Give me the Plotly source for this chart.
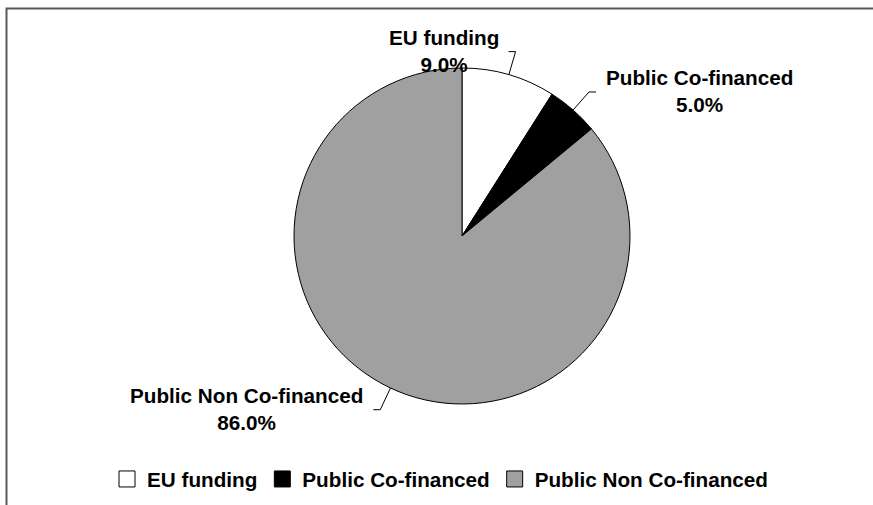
import math
import plotly.graph_objects as go

# Funding breakdown (share of total, %)
categories = ["EU funding", "Public Co-financed", "Public Non Co-financed"]
shares = [9.0, 5.0, 86.0]
slice_colors = ["#FFFFFF", "#000000", "#A0A0A0"]

# Canvas and pie geometry in pixels
W, H = 873, 505
CX, CY, R = 462, 236, 168
LEADER_OUT = 24      # radial length of each leader line beyond the rim
TICK = 7             # short horizontal elbow at the leader end
GAP = 8              # space between elbow and label text
label_side = [-1, 1, -1]   # label placed left (-1) or right (+1) of its leader

FONT = dict(family="Liberation Sans, Arial, sans-serif", size=20.7,
            color="#000000", weight="bold")

fig = go.Figure()

fig.add_trace(go.Pie(
    labels=categories,
    values=shares,
    sort=False,
    direction="clockwise",
    rotation=0,
    marker=dict(colors=slice_colors, line=dict(color="#000000", width=1)),
    textinfo="none",
    hoverinfo="label+percent",
    showlegend=False,
    domain=dict(x=[(CX - R) / W, (CX + R) / W],
                y=[(H - CY - R) / H, (H - CY + R) / H]),
))

# Legend entries with square swatches
for name, col in zip(categories, slice_colors):
    fig.add_trace(go.Scatter(
        x=[None], y=[None], mode="markers", name=name,
        marker=dict(symbol="square", size=16, color=col,
                    line=dict(color="#000000", width=1)),
        hoverinfo="skip",
    ))

# Leader lines and outside labels, placed at each slice's mid-angle
shapes = []
annotations = []
total = sum(shares)
cum = 0.0
for name, v, side in zip(categories, shares, label_side):
    mid = (cum + v / 2) / total
    cum += v
    theta = 2 * math.pi * mid
    sx, sy = math.sin(theta), -math.cos(theta)
    x0, y0 = CX + R * sx, CY + R * sy
    x1, y1 = CX + (R + LEADER_OUT) * sx, CY + (R + LEADER_OUT) * sy
    x2 = x1 + side * TICK
    shapes.append(dict(
        type="path", xref="x", yref="y", layer="above",
        path=f"M {x0:.2f} {y0:.2f} L {x1:.2f} {y1:.2f} L {x2:.2f} {y1:.2f}",
        line=dict(color="#000000", width=1),
    ))
    annotations.append(dict(
        x=x2 + side * GAP, y=y1 - 1, xref="x", yref="y",
        xanchor="right" if side < 0 else "left", yanchor="middle",
        align="center", showarrow=False,
        text=f"{name}<br>{v:.1f}%", font=FONT,
    ))

# Chart frame (top and left edges)
shapes.append(dict(
    type="path", xref="x", yref="y", layer="above",
    path=f"M 6.5 {H} L 6.5 8.5 L {W} 8.5",
    line=dict(color="#5A5A5A", width=2),
))

fig.update_layout(
    width=W, height=H,
    margin=dict(l=0, r=0, t=0, b=0),
    paper_bgcolor="#FFFFFF", plot_bgcolor="#FFFFFF",
    xaxis=dict(range=[0, W], visible=False, fixedrange=True, domain=[0, 1]),
    yaxis=dict(range=[H, 0], visible=False, fixedrange=True, domain=[0, 1]),
    shapes=shapes,
    annotations=annotations,
    showlegend=True,
    legend=dict(
        orientation="h", x=440 / W, xanchor="center",
        y=(H - 479) / H, yanchor="middle",
        font=FONT, itemsizing="trace", traceorder="normal",
        bgcolor="rgba(0,0,0,0)",
    ),
)

fig.write_html("out.html")
